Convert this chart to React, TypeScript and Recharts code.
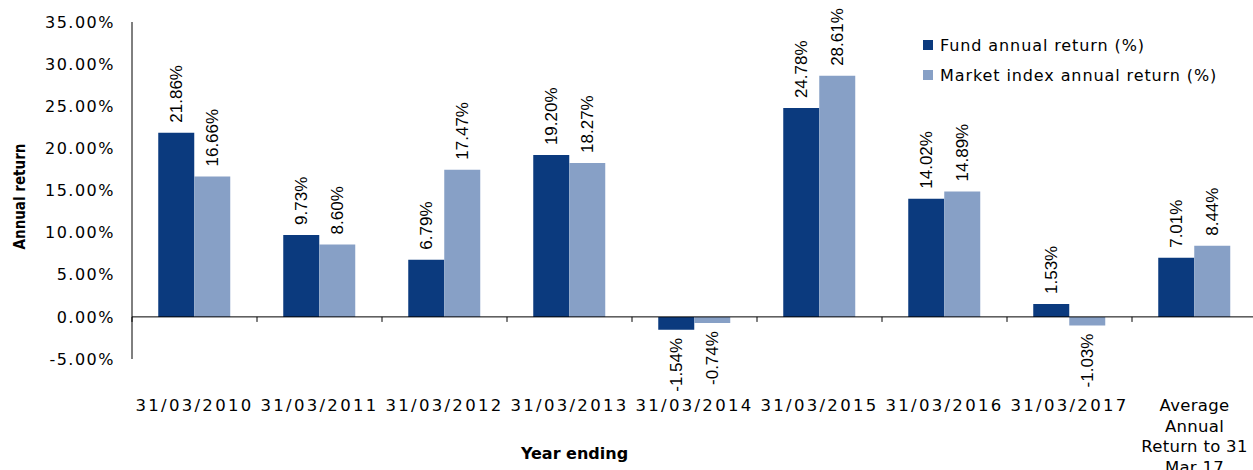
import React from 'react';
import { BarChart, Bar, XAxis, YAxis, ReferenceLine, LabelList, Legend } from 'recharts';

const categories = [
  '31/03/2010',
  '31/03/2011',
  '31/03/2012',
  '31/03/2013',
  '31/03/2014',
  '31/03/2015',
  '31/03/2016',
  '31/03/2017',
  'Average Annual Return to 31 Mar 17',
];
const fundReturns = [21.86, 9.73, 6.79, 19.2, -1.54, 24.78, 14.02, 1.53, 7.01];
const marketReturns = [16.66, 8.6, 17.47, 18.27, -0.74, 28.61, 14.89, -1.03, 8.44];
const yTicks = [-5, 0, 5, 10, 15, 20, 25, 30, 35];

const seriesNames = {
  fund: 'Fund annual return (%)',
  market: 'Market index annual return (%)',
};
const xTitle = 'Year ending';
const yTitle = 'Annual return';

const data = categories.map((c, i) => ({
  category: c,
  fund: fundReturns[i],
  market: marketReturns[i],
}));

const FUND_COLOR = '#0B3A7E';
const MARKET_COLOR = '#87A0C6';
const WIDE_FONT = "'DejaVu Sans', Verdana, sans-serif";
const LABEL_FONT = "'Liberation Sans', Arial, sans-serif";

const fmtPct = (v: number) => `${v.toFixed(2)}%`;

function wrapWords(text: string, maxChars: number): string[] {
  const words = text.split(' ');
  const lines: string[] = [];
  let cur = '';
  for (const w of words) {
    const next = cur ? `${cur} ${w}` : w;
    if (next.length > maxChars && cur) {
      lines.push(cur);
      cur = w;
    } else {
      cur = next;
    }
  }
  if (cur) lines.push(cur);
  return lines;
}

const CategoryTick = (props: any) => {
  const { x, y, payload } = props;
  const value: string = String(payload.value);
  const isDate = /^\d/.test(value);
  const lines = isDate ? [value] : wrapWords(value, 12);
  return (
    <text
      x={x}
      y={y}
      textAnchor="middle"
      fill="#000"
      style={{ fontFamily: WIDE_FONT, fontSize: 16.5, letterSpacing: isDate ? 2.3 : 0.3 }}
    >
      {lines.map((l, i) => (
        <tspan key={i} x={x} dy={i === 0 ? 52 : 20.5}>
          {l}
        </tspan>
      ))}
    </text>
  );
};

const BarValueLabel = (props: any) => {
  const { x, y, width, height, value } = props;
  const v = Number(value);
  const cx = Number(x) + Number(width) / 2;
  const y0 = Number(y);
  const y1 = Number(y) + Number(height);
  const top = Math.min(y0, y1);
  const bottom = Math.max(y0, y1);
  const neg = v < 0;
  const ay = neg ? bottom + 8 : top - 10;
  return (
    <text
      x={cx}
      y={ay}
      transform={`rotate(-90 ${cx} ${ay})`}
      textAnchor={neg ? 'end' : 'start'}
      dominantBaseline="central"
      fill="#000"
      style={{ fontFamily: LABEL_FONT, fontSize: 17 }}
    >
      {fmtPct(v)}
    </text>
  );
};

const LegendContent = (props: any) => {
  const { payload } = props;
  return (
    <div style={{ fontFamily: WIDE_FONT, fontSize: 16, letterSpacing: 0.9, color: '#000' }}>
      {(payload || []).map((e: any, i: number) => (
        <div key={i} style={{ display: 'flex', alignItems: 'center', height: 30, whiteSpace: 'nowrap' }}>
          <span style={{ display: 'inline-block', width: 10, height: 10, background: e.color, marginRight: 7 }} />
          <span>{e.value}</span>
        </div>
      ))}
    </div>
  );
};

const YTitle = (props: any) => {
  const { viewBox } = props;
  const cx = viewBox.x + 20;
  const cy = viewBox.y + viewBox.height / 2 + 6;
  return (
    <text
      x={cx}
      y={cy}
      transform={`rotate(-90 ${cx} ${cy})`}
      textAnchor="middle"
      dominantBaseline="central"
      fill="#000"
      style={{
        fontFamily: "'Liberation Sans Narrow', 'DejaVu Sans Condensed', 'Arial Narrow', sans-serif",
        fontWeight: 700,
        fontSize: 15,
        fontStretch: 'condensed',
      }}
    >
      {yTitle}
    </text>
  );
};

const XTitle = (props: any) => {
  const { viewBox } = props;
  const cx = viewBox.x + viewBox.width / 2 - 120;
  const by = viewBox.y + viewBox.height - 11;
  return (
    <text
      x={cx}
      y={by}
      textAnchor="middle"
      fill="#000"
      style={{ fontFamily: WIDE_FONT, fontWeight: 700, fontSize: 16 }}
    >
      {xTitle}
    </text>
  );
};

export default function App() {
  return (
    <div
      style={{
        position: 'absolute',
        left: 0,
        top: 0,
        width: 1253,
        height: 470,
        overflow: 'hidden',
        background: '#fff',
      }}
    >
      <BarChart
        width={1258}
        height={470}
        data={data}
        margin={{ top: 22, right: 1, left: 0, bottom: 0 }}
        barCategoryGap="21%"
        barGap={0}
      >
        <XAxis
          dataKey="category"
          interval={0}
          axisLine={false}
          tickLine={false}
          tickSize={0}
          tickMargin={0}
          height={111}
          tick={<CategoryTick />}
          label={{ content: <XTitle /> }}
        />
        <YAxis
          width={132}
          domain={[-5, 35]}
          ticks={yTicks}
          allowDataOverflow
          tickFormatter={(v: number) => fmtPct(v)}
          axisLine={{ stroke: '#000', strokeWidth: 1 }}
          tickLine={false}
          tickSize={0}
          tickMargin={17}
          tick={{ fill: '#000', fontFamily: WIDE_FONT, fontSize: 16, letterSpacing: 1.5 }}
          label={{ content: <YTitle /> }}
        />
        <Legend
          layout="vertical"
          align="center"
          verticalAlign="middle"
          content={<LegendContent />}
          wrapperStyle={{ left: 923, top: 30, width: 'auto', height: 'auto' }}
        />
        <ReferenceLine y={0} stroke="#000" strokeWidth={1} />
        {categories.map((c) => (
          <ReferenceLine
            key={`tick-${c}`}
            segment={[
              { x: c, y: 0 },
              { x: c, y: -0.6 },
            ]}
            position="start"
            stroke="#000"
            strokeWidth={1}
          />
        ))}
        <Bar dataKey="fund" name={seriesNames.fund} fill={FUND_COLOR} isAnimationActive={false}>
          <LabelList dataKey="fund" content={<BarValueLabel />} />
        </Bar>
        <Bar dataKey="market" name={seriesNames.market} fill={MARKET_COLOR} isAnimationActive={false}>
          <LabelList dataKey="market" content={<BarValueLabel />} />
        </Bar>
      </BarChart>
    </div>
  );
}
